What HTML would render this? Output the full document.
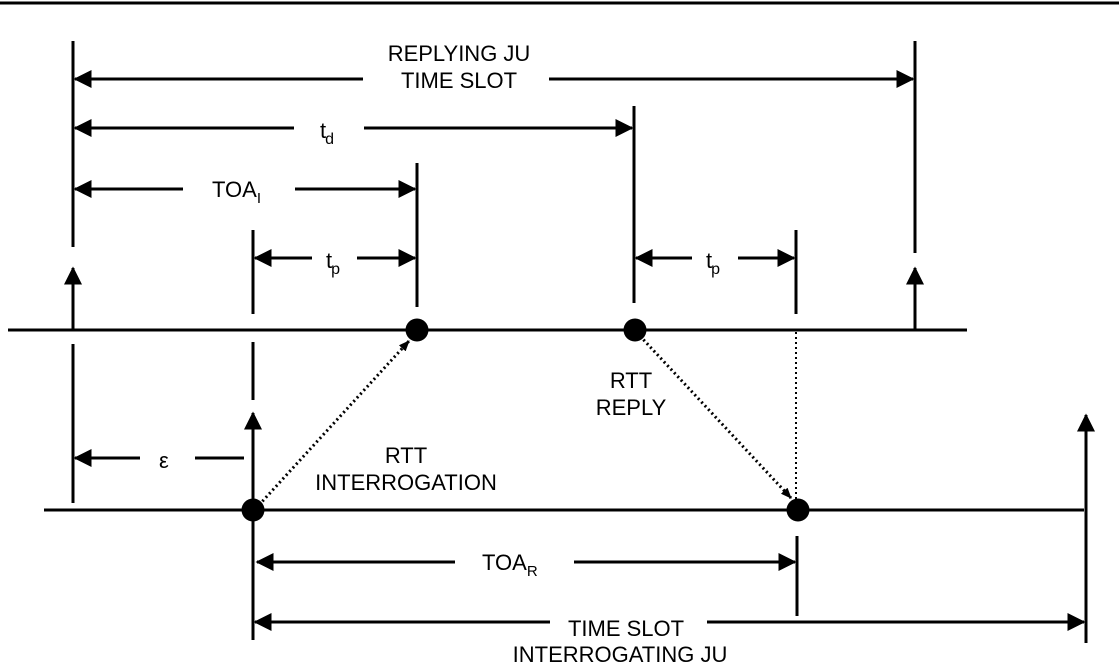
<!DOCTYPE html>
<html><head><meta charset="utf-8"><style>body{margin:0;background:#fff}svg{display:block}text{font-family:"Liberation Sans",Arial,sans-serif;font-size:22px;fill:#000}</style></head><body>
<svg width="1119" height="669" viewBox="0 0 1119 669" xmlns="http://www.w3.org/2000/svg">
<defs>
<marker id="a" markerWidth="6" markerHeight="6" refX="5.5" refY="3" orient="auto" markerUnits="strokeWidth"><path d="M0,0 L6,3 L0,6 z" fill="#000"/></marker>
<marker id="b" markerWidth="11" markerHeight="9" refX="10" refY="4.5" orient="auto" markerUnits="userSpaceOnUse"><path d="M0,0 L11,4.5 L0,9 z" fill="#000"/></marker>
</defs>
<g stroke="#000" stroke-width="3" fill="none">
<line x1="0" y1="3" x2="1119" y2="3"/>
<line x1="8" y1="330" x2="967" y2="330"/>
<line x1="44" y1="510" x2="1084" y2="510"/>
<line x1="73" y1="41" x2="73" y2="247"/>
<line x1="73" y1="344" x2="73" y2="503"/>
<line x1="915" y1="41" x2="915" y2="253"/>
<line x1="634" y1="106" x2="634" y2="303"/>
<line x1="417" y1="163" x2="417" y2="307"/>
<line x1="253" y1="230" x2="253" y2="314"/>
<line x1="253" y1="342" x2="253" y2="400"/>
<line x1="253" y1="510" x2="253" y2="640"/>
<line x1="796" y1="230" x2="796" y2="314"/>
<line x1="797" y1="536" x2="797" y2="616"/>
<line x1="73" y1="330" x2="73" y2="268" marker-end="url(#a)"/>
<line x1="915" y1="330" x2="915" y2="268" marker-end="url(#a)"/>
<line x1="253" y1="510" x2="253" y2="413" marker-end="url(#a)"/>
<line x1="1086" y1="643" x2="1086" y2="415" marker-end="url(#a)"/>
<line x1="363" y1="79" x2="75" y2="79" marker-end="url(#a)"/>
<line x1="549" y1="79" x2="913" y2="79" marker-end="url(#a)"/>
<line x1="294" y1="128" x2="75" y2="128" marker-end="url(#a)"/>
<line x1="364" y1="128" x2="632" y2="128" marker-end="url(#a)"/>
<line x1="183" y1="189" x2="75" y2="189" marker-end="url(#a)"/>
<line x1="295" y1="189" x2="415" y2="189" marker-end="url(#a)"/>
<line x1="312" y1="258" x2="255" y2="258" marker-end="url(#a)"/>
<line x1="357" y1="258" x2="415" y2="258" marker-end="url(#a)"/>
<line x1="692" y1="258" x2="636" y2="258" marker-end="url(#a)"/>
<line x1="738" y1="258" x2="794" y2="258" marker-end="url(#a)"/>
<line x1="140" y1="458" x2="75" y2="458" marker-end="url(#a)"/>
<line x1="195" y1="458" x2="244" y2="458"/>
<line x1="455" y1="562" x2="257" y2="562" marker-end="url(#a)"/>
<line x1="574" y1="562" x2="795" y2="562" marker-end="url(#a)"/>
<line x1="550" y1="622" x2="255" y2="622" marker-end="url(#a)"/>
<line x1="707" y1="622" x2="1084" y2="622" marker-end="url(#a)"/>
</g>
<g stroke="#000" stroke-width="3" stroke-dasharray="2,3" fill="none">
<line x1="259" y1="505" x2="409" y2="341" marker-end="url(#b)"/>
<line x1="640" y1="336" x2="791" y2="498" marker-end="url(#b)"/>
<line x1="796" y1="332" x2="796" y2="500" stroke-width="2"/>
</g>
<g fill="#000">
<circle cx="417" cy="330" r="11.5"/>
<circle cx="635" cy="330" r="11.5"/>
<circle cx="253" cy="510" r="11.5"/>
<circle cx="798" cy="510" r="11.5"/>
</g>
<g text-anchor="middle">
<text x="459" y="61">REPLYING JU</text>
<text x="459" y="88">TIME SLOT</text>
<text x="406" y="463">RTT</text>
<text x="406" y="490">INTERROGATION</text>
<text x="631" y="388">RTT</text>
<text x="631" y="415">REPLY</text>
<text x="626" y="636">TIME SLOT</text>
<text x="620" y="662">INTERROGATING JU</text>
</g>
<text x="320" y="138" font-size="24">t<tspan font-size="16" dy="6" dx="-1">d</tspan></text>
<text x="212" y="197">TOA<tspan font-size="15" dy="6">I</tspan></text>
<text x="326" y="268" font-size="24">t<tspan font-size="16" dy="6" dx="-1">p</tspan></text>
<text x="706" y="268" font-size="24">t<tspan font-size="16" dy="6" dx="-1">p</tspan></text>
<text x="159" y="468" font-size="27">ε</text>
<text x="482" y="570">TOA<tspan font-size="15" dy="6">R</tspan></text>
</svg>
</body></html>
